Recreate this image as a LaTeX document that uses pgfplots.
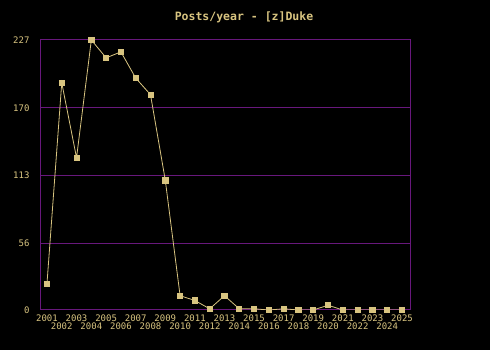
\documentclass[border=0pt]{standalone}
\usepackage{fontspec}
\setmainfont{DejaVu Sans Mono}
\usepackage{pgfplots}
\pgfplotsset{compat=1.18}
\definecolor{tan}{RGB}{216,196,128}
\definecolor{frm}{RGB}{104,24,124}
\begin{document}
\begin{tikzpicture}[x=1pt,y=1pt]
\fill[black] (0,0) rectangle (490,350);
\begin{axis}[at={(40pt,40pt)}, anchor=south west, scale only axis,
  width=370pt, height=270pt,
  xmin=2000.53, xmax=2025.54, ymin=0, ymax=227,
  axis line style={frm, line width=1pt},
  ytick={0,56,113,170,227}, ymajorgrids, grid style={frm, line width=1pt},
  xtick={2001,2003,...,2025},
  extra x ticks={2002,2004,...,2024},
  extra x tick style={xticklabel style={yshift=-8pt}},
  major tick length=0pt,
  /pgf/number format/.cd, 1000 sep={}, assume math mode=true, /pgfplots/.cd,
  tick label style={tan, font=\fontsize{9}{10}\selectfont},
  xticklabel style={yshift=-4pt, inner sep=1pt},
  yticklabel style={xshift=-7pt},
]
\addplot[tan, line width=0.8pt, mark=square*, mark size=2.6pt, mark options={fill=tan, draw=tan}] coordinates {
(2001,22) (2002,191) (2003,128) (2004,227) (2005,212) (2006,217) (2007,195) (2008,181)
(2009,109) (2010,12) (2011,8) (2012,1) (2013,12) (2014,1) (2015,1) (2016,0) (2017,1)
(2018,0) (2019,0) (2020,4) (2021,0) (2022,0) (2023,0) (2024,0) (2025,0)};
\end{axis}
\node[tan, font=\bfseries\fontsize{11.5}{12}\selectfont, anchor=center] at (244,333) {Posts/year - [z]Duke};
\end{tikzpicture}
\end{document}
